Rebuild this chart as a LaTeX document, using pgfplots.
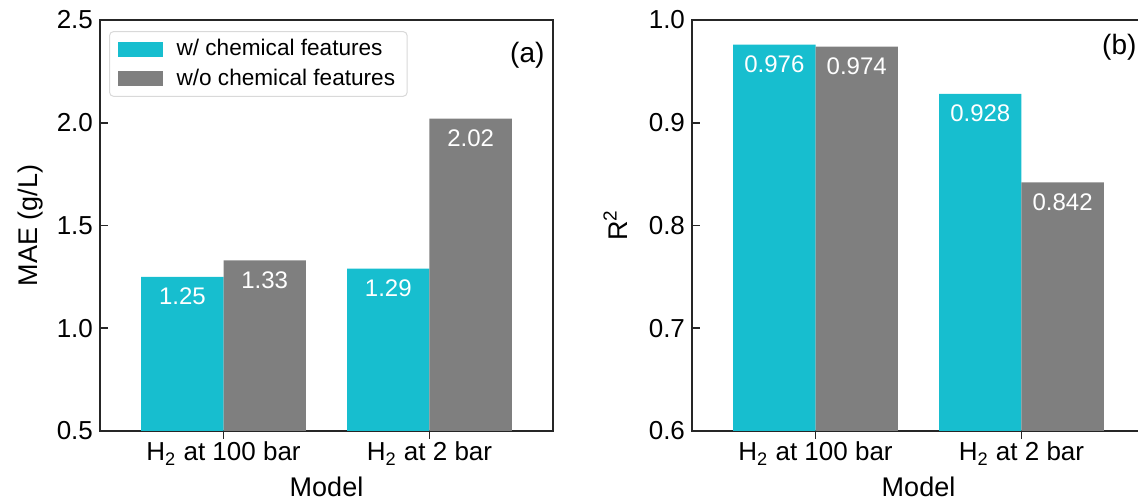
\documentclass[border=0pt]{standalone}
\usepackage{fontspec}
\setmainfont{Liberation Sans}
\usepackage{pgfplots}
\pgfplotsset{compat=1.18}
\definecolor{tabcyan}{HTML}{17BECF}
\definecolor{tabgray}{HTML}{7F7F7F}
\pgfplotsset{
  myaxis/.style={
    scale only axis, width=226.5pt, height=205.5pt,
    xmin=-0.6, xmax=1.6,
    xtick={0,1},
    xticklabels={H\textsubscript{2} at 100 bar, H\textsubscript{2} at 2 bar},
    tick align=inside, xtick pos=bottom, ytick pos=left,
    major tick length=4pt,
    axis line style={line width=0.8pt, black!85},
    every tick/.style={line width=0.8pt, black!85},
    tick label style={font=\fontsize{13}{15}\selectfont},
    /pgf/number format/assume math mode=true,
    yticklabel style={/pgf/number format/.cd, fixed, fixed zerofill, precision=1},
    xticklabel style={yshift=2pt},
    label style={font=\fontsize{13.5}{16}\selectfont},
    xlabel style={yshift=1pt},
    xlabel=Model,
    ybar=0pt, bar width=0.4,
    point meta=y,
    nodes near coords={\pgfmathprintnumber[fixed, precision=3]{\pgfplotspointmeta}},
    every node near coord/.append style={anchor=center, yshift=-9.75pt, text=white, font=\fontsize{12}{14}\selectfont},
  },
  mybar/.style={draw=none, fill=#1,
    legend image code/.code={\fill[fill=#1, sharp corners] (0pt,-3.75pt) rectangle (22.5pt,3.75pt);}},
}
\begin{document}
\begin{tikzpicture}
\clip (0,0) rectangle (569pt,250.5pt);
\begin{axis}[myaxis,
  at={(50pt,35pt)}, anchor=south west,
  ymin=0.5, ymax=2.5, ytick={0.5,1.0,1.5,2.0,2.5},
  ylabel={MAE (g/L)},
  legend style={at={(0.02,0.973)}, anchor=north west, draw=black!15, line width=0.5pt,
    rounded corners=2pt, font=\fontsize{11.3}{13}\selectfont, inner xsep=4pt, inner ysep=2pt,
    row sep=1pt, /tikz/every odd column/.append style={column sep=5pt}},
  legend cell align=left,
]
\addplot[mybar=tabcyan, bar shift=-0.2] coordinates {(0,1.25) (1,1.29)};
\addplot[mybar=tabgray, bar shift=0.2] coordinates {(0,1.33) (1,2.02)};
\legend{w/ chemical features, w/o chemical features}
\node[anchor=east, inner sep=0pt, font=\fontsize{14}{16}\selectfont] at (rel axis cs:0.982,0.915) {(a)};
\end{axis}
\begin{axis}[myaxis,
  at={(346pt,35pt)}, anchor=south west,
  ymin=0.6, ymax=1.0, ytick={0.6,0.7,0.8,0.9,1.0},
  ylabel={R\textsuperscript{2}},
  ylabel style={yshift=4pt},
]
\addplot[mybar=tabcyan, bar shift=-0.2] coordinates {(0,0.976) (1,0.928)};
\addplot[mybar=tabgray, bar shift=0.2] coordinates {(0,0.974) (1,0.842)};
\node[anchor=east, inner sep=0pt, font=\fontsize{14}{16}\selectfont] at (rel axis cs:0.982,0.934) {(b)};
\end{axis}
\end{tikzpicture}
\end{document}
